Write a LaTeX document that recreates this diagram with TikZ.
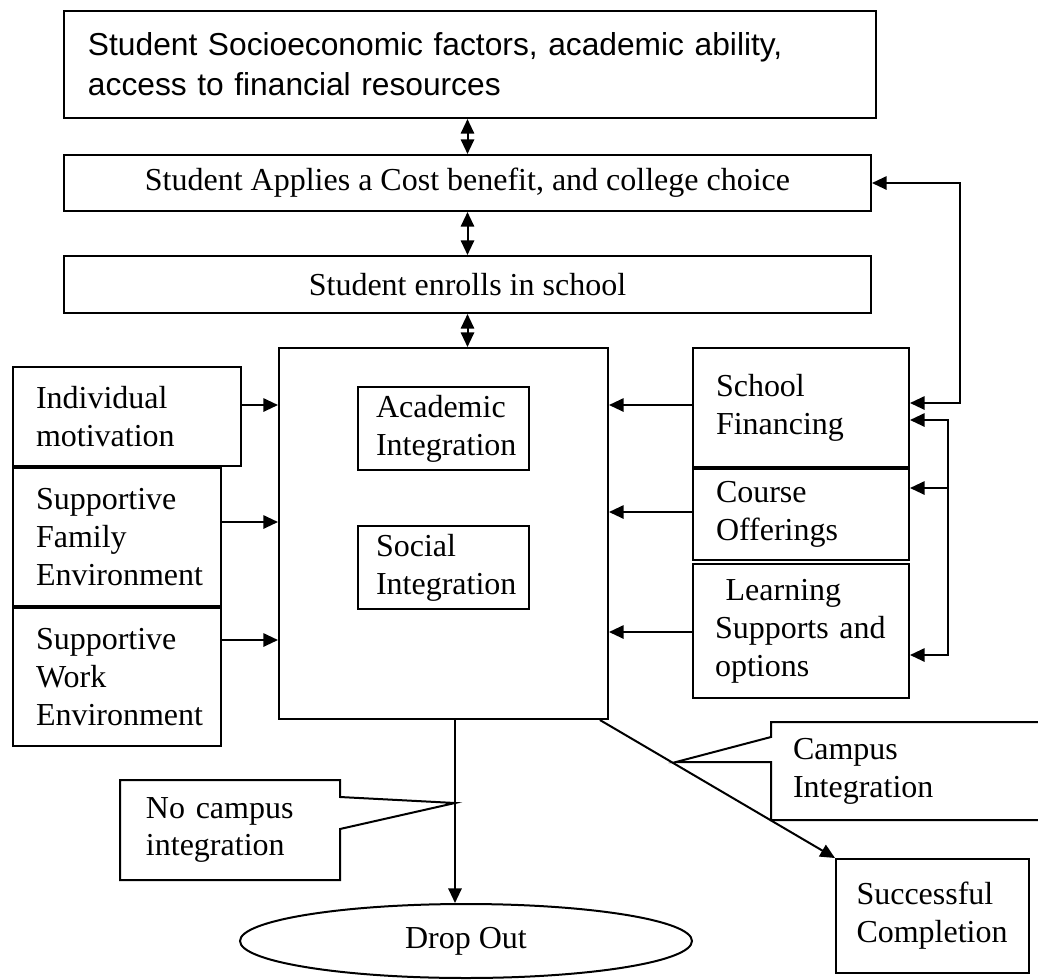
\documentclass[tikz,border=0pt]{standalone}
\usepackage{fontspec}
\setmainfont{Liberation Serif}
\newfontfamily\arialfont{Liberation Sans}
\usetikzlibrary{arrows.meta,positioning,shapes.geometric}

\newlength{\pix}
\setlength{\pix}{0.375pt}

\tikzset{
  box/.style={draw, inner sep=0pt, anchor=north west},
  note/.style={inner sep=0pt, anchor=north west, align=left},
  dlink/.style={<->},
}

\begin{document}
\begin{tikzpicture}[x=0.375pt, y=-0.375pt, line width=0.75pt,
    >={Triangle[length=5.5pt,width=5pt]},
    every node/.style={font=\fontsize{12}{14.2}\selectfont}]
  \clip (0,0) rectangle (1038,980);

  % from background to enrolment
  \node[box, align=left, font=\arialfont\fontsize{11.9}{15}\selectfont,
    minimum width=812\pix, minimum height=107\pix, text width=764\pix] (socio) at (63,10)
    {Student Socioeconomic factors, academic ability,\\access to financial resources};
  \node[box, minimum width=807\pix, minimum height=56\pix] (choice) at (63,154)
    {Student Applies a Cost benefit, and college choice};
  \node[box, minimum width=807\pix, minimum height=57\pix] (enroll) at (63,255)
    {Student enrolls in school};

  % campus with its two kinds of integration
  \node[box, minimum width=329\pix, minimum height=371\pix] (campus) at (278,347) {};
  \node[box, align=left, minimum width=171\pix, minimum height=83\pix, text width=135\pix] (acad) at (357,386)
    {Academic\\Integration};
  \node[box, align=left, minimum width=171\pix, minimum height=83\pix, text width=135\pix] (social) at (357,525)
    {Social\\Integration};

  % personal side
  \node[box, align=left, minimum width=228\pix, minimum height=99\pix, text width=182\pix] (indiv) at (12,366)
    {Individual\\motivation};
  \node[box, align=left, minimum width=208\pix, minimum height=138\pix, text width=162\pix] (family) at (indiv.south west)
    {Supportive\\Family\\Environment};
  \node[box, align=left, minimum width=208\pix, minimum height=138\pix, text width=162\pix] (work) at (family.south west)
    {Supportive\\Work\\Environment};

  % school side
  \node[box, align=left, minimum width=216\pix, minimum height=119\pix, text width=170\pix] (school) at (692,347)
    {School\\Financing};
  \node[box, align=left, minimum width=216\pix, minimum height=91\pix, text width=170\pix] (course) at (school.south west)
    {Course\\Offerings};
  \node[box, align=left, minimum width=216\pix, minimum height=134\pix, text width=172\pix] (learn) at (692,563)
    {~Learning\\Supports and\\options};

  % outcomes
  \node[draw, ellipse, inner sep=0pt, minimum width=452\pix, minimum height=74\pix] (drop) at (466,941) {Drop Out};
  \node[box, align=left, minimum width=193\pix, minimum height=114\pix, text width=152\pix] (success) at (835,858)
    {Successful\\Completion};

  % arrows between the stages
  \draw[dlink] (choice.north) -- (choice.north |- socio.south);
  \draw[dlink] (enroll.north) -- (enroll.north |- choice.south);
  \draw[dlink] (enroll.south) -- (enroll.south |- campus.north);

  \foreach \src/\y in {indiv/405, family/522, work/640}
    \draw[->] (\src.east |- 0,\y) -- (campus.west |- 0,\y);
  \foreach \src/\y in {school/405, course/512, learn/632}
    \draw[->] (\src.west |- 0,\y) -- (campus.east |- 0,\y);

  % financing feeds back into the college choice
  \draw[<->] (school.east |- 0,403) -- ++(50,0) |- (choice.east);
  \coordinate (rail) at (948,420);
  \draw[<->] (school.east |- rail) -- (rail) |- (learn.east |- 0,655);
  \draw[->] (rail |- 0,488) -- (course.east |- 0,488);

  % leaving campus
  \coordinate (split) at (455,803);
  \coordinate (touch) at (676,762);
  \draw[->] (campus.south -| split) -- (split) -- (drop.north -| split);
  \draw[->] ([xshift=-3.4pt]campus.south east) -- (success.north west);

  \node[note, minimum width=218\pix, minimum height=98\pix, text width=168\pix] (nocamp) at (120,780)
    {No campus\\integration};
  \draw (nocamp.north west) -- (nocamp.north east) -- ++(0,17) -- (split)
    -- (nocamp.east |- 0,829) -- (nocamp.south east) -- (nocamp.south west) -- cycle;

  \node[note, minimum width=320\pix, minimum height=96\pix, text width=278\pix] (campint) at (771,722)
    {Campus\\Integration};
  \draw (campint.north east) -- (campint.north west) -- ++(0,15) -- (touch)
    -- (campint.west |- 0,762) -- (campint.south west) -- (campint.south east);
\end{tikzpicture}
\end{document}
